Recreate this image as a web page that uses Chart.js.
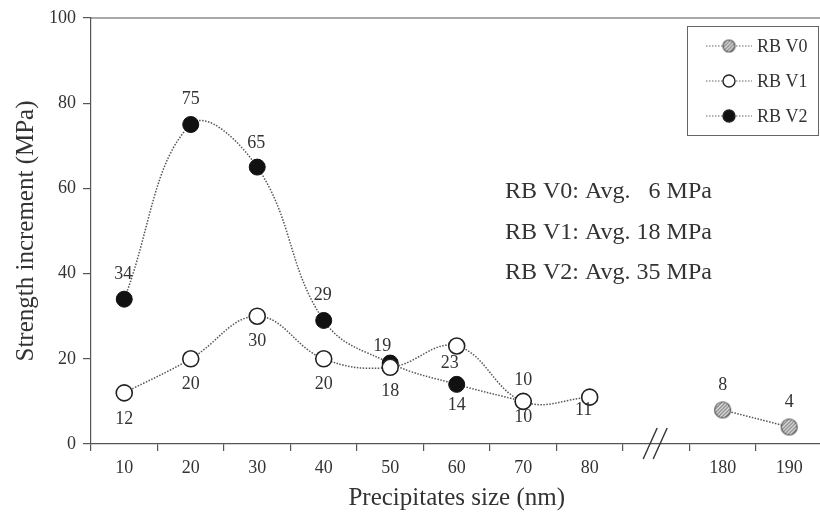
<!DOCTYPE html>
<html>
<head>
<meta charset="utf-8">
<script src="https://cdn.jsdelivr.net/npm/chart.js@4"></script>
<style>
  html, body { margin: 0; padding: 0; background: #fff; overflow: hidden; }
  #wrap { width: 832px; height: 513px; position: relative; }
</style>
</head>
<body>
<div id="wrap"><canvas id="chart"></canvas></div>
<script>
'use strict';

// ─── Data ────────────────────────────────────────────────────────────────────
const sizes  = ['10', '20', '30', '40', '50', '60', '70', '80', '', '180', '190'];
const rbV0   = [null, null, null, null, null, null, null, null, null, 8, 4];
const rbV1   = [12, 20, 30, 20, 18, 23, 10, 11, null, null, null];
const rbV2   = [34, 75, 65, 29, 19, 14, 10, null, null, null, null];
const seriesNames = ['RB V0', 'RB V1', 'RB V2'];
const avgNotes = ['RB V0: Avg.   6 MPa', 'RB V1: Avg. 18 MPa', 'RB V2: Avg. 35 MPa'];

// label offsets (dx, dy) per point, px
const offV0 = [null, null, null, null, null, null, null, null, null, [0, -25], [0, -25]];
const offV1 = [[0, 26], [0, 25], [0, 25], [0, 25], [0, 24], [-7, 17], [0, -21], [-6, 13], null, null, null];
const offV2 = [[-1, -25], [0, -25], [-1, -24], [-1, -25], [-8, -17], [0, 21], [0, 16], null, null, null, null];

const SERIF = '"Liberation Serif", "Times New Roman", serif';
const INK = '#333';

// ─── Hatched marker ──────────────────────────────────────────────────────────
function hatchMarker(r) {
  const s = Math.ceil(2 * r + 3);
  const c = document.createElement('canvas');
  c.width = c.height = s;
  const g = c.getContext('2d');
  g.beginPath();
  g.arc(s / 2, s / 2, r, 0, Math.PI * 2);
  g.fillStyle = '#fff';
  g.fill();
  g.save();
  g.clip();
  g.strokeStyle = '#777';
  g.lineWidth = 1.4;
  for (let k = -s; k < 2 * s; k += 3.6) {
    g.beginPath();
    g.moveTo(k, s);
    g.lineTo(k + s, 0);
    g.stroke();
  }
  g.restore();
  g.beginPath();
  g.arc(s / 2, s / 2, r, 0, Math.PI * 2);
  g.strokeStyle = '#555';
  g.lineWidth = 1.2;
  g.stroke();
  return c;
}
const hatchBig = hatchMarker(8);
const hatchSmall = hatchMarker(6);

const lineStyle = { borderColor: '#555', borderWidth: 1.5, borderDash: [1.5, 1.5], tension: 0.4, fill: false, spanGaps: false };

// ─── Plugins ─────────────────────────────────────────────────────────────────
const decor = {
  id: 'decor',
  afterDatasetsDraw(chart) {
    const { ctx, chartArea: a, scales: { x } } = chart;
    ctx.save();

    // top frame line
    ctx.strokeStyle = '#555';
    ctx.lineWidth = 1.2;
    ctx.beginPath();
    ctx.moveTo(a.left, a.top);
    ctx.lineTo(a.right, a.top);
    ctx.stroke();

    // axis break
    const bx = x.getPixelForValue(8);
    ctx.strokeStyle = '#333';
    ctx.lineWidth = 1.4;
    [-5, 5].forEach(d => {
      ctx.beginPath();
      ctx.moveTo(bx + d - 8, a.bottom + 15);
      ctx.lineTo(bx + d + 6, a.bottom - 16);
      ctx.stroke();
    });

    // point labels
    const offs = [offV0, offV1, offV2];
    ctx.font = '18px ' + SERIF;
    ctx.fillStyle = INK;
    ctx.textAlign = 'center';
    ctx.textBaseline = 'middle';
    chart.data.datasets.forEach((ds, di) => {
      const meta = chart.getDatasetMeta(di);
      ds.data.forEach((v, i) => {
        if (v === null) return;
        const p = meta.data[i];
        const o = offs[di][i] || [0, -25];
        ctx.fillText(String(v), p.x + o[0], p.y + o[1]);
      });
    });

    // average notes
    ctx.font = '24px ' + SERIF;
    ctx.textAlign = 'left';
    [192, 233, 273].forEach((y, i) => ctx.fillText(avgNotes[i], 505, y));

    // legend
    ctx.strokeStyle = '#666';
    ctx.lineWidth = 1;
    ctx.strokeRect(687.5, 26.5, 131, 109);
    ctx.font = '18px ' + SERIF;
    [46, 81, 116].forEach((y, i) => {
      ctx.strokeStyle = '#666';
      ctx.lineWidth = 1.2;
      ctx.setLineDash([1.5, 1.5]);
      ctx.beginPath();
      ctx.moveTo(706, y);
      ctx.lineTo(752, y);
      ctx.stroke();
      ctx.setLineDash([]);
      if (i === 0) {
        ctx.drawImage(hatchSmall, 729 - hatchSmall.width / 2, y - hatchSmall.height / 2);
      } else {
        ctx.beginPath();
        ctx.arc(729, y, 6, 0, Math.PI * 2);
        ctx.fillStyle = i === 1 ? '#fff' : '#111';
        ctx.fill();
        ctx.strokeStyle = '#222';
        ctx.lineWidth = 1.4;
        ctx.stroke();
      }
      ctx.fillStyle = INK;
      ctx.fillText(seriesNames[i], 757, y + 1);
    });

    ctx.restore();
  }
};

// ─── Chart ───────────────────────────────────────────────────────────────────
new Chart(document.getElementById('chart'), {
  type: 'line',
  data: {
    labels: sizes,
    datasets: [
      { label: seriesNames[0], data: rbV0, ...lineStyle, pointStyle: hatchBig, pointRadius: 8 },
      { label: seriesNames[1], data: rbV1, ...lineStyle, pointStyle: 'circle', pointRadius: 8,
        pointBackgroundColor: '#fff', pointBorderColor: '#222', pointBorderWidth: 1.6 },
      { label: seriesNames[2], data: rbV2, ...lineStyle, pointStyle: 'circle', pointRadius: 8,
        pointBackgroundColor: '#111', pointBorderColor: '#111', pointBorderWidth: 1 },
    ]
  },
  options: {
    responsive: true,
    maintainAspectRatio: false,
    animation: false,
    layout: { padding: { top: 18, right: 1, left: 0, bottom: 0 } },
    plugins: { legend: { display: false }, tooltip: { enabled: false } },
    scales: {
      x: {
        offset: true,
        grid: { offset: true, drawOnChartArea: false, tickLength: 7, color: '#555', lineWidth: 1.2 },
        border: { color: '#555', width: 1.2 },
        ticks: { color: INK, font: { family: SERIF, size: 18 }, padding: 6, maxRotation: 0, autoSkip: false },
        title: { display: true, text: 'Precipitates size (nm)', color: INK, font: { family: SERIF, size: 25 }, padding: { top: 0, bottom: 0 } },
        afterFit: s => { s.height = 69; }
      },
      y: {
        min: 0, max: 100,
        ticks: { stepSize: 20, color: INK, font: { family: SERIF, size: 18 }, padding: 7 },
        grid: { drawOnChartArea: false, tickLength: 8, color: '#555', lineWidth: 1.2 },
        border: { color: '#555', width: 1.2 },
        title: { display: true, text: 'Strength increment (MPa)', color: INK, font: { family: SERIF, size: 25 }, padding: { top: 11, bottom: 0 } },
        afterFit: s => { s.width = 91; }
      }
    }
  },
  plugins: [decor]
});
</script>
</body>
</html>
